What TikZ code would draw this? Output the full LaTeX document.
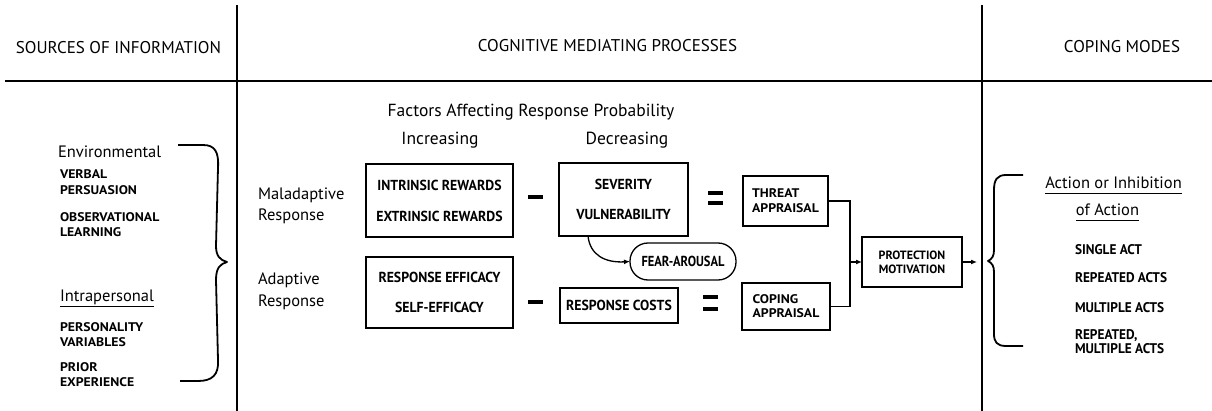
\documentclass[tikz,border=0pt]{standalone}
\usepackage{fontspec}
\setmainfont{PT Sans}
\newfontfamily\capsb[FakeStretch=0.86]{PT Sans}
\newfontfamily\capsm[FakeStretch=0.95]{PT Sans}
\newfontfamily\capsw[FakeStretch=1.1]{PT Sans}
\usetikzlibrary{arrows.meta}
\tikzset{
  every node/.style={inner sep=0pt, outer sep=0pt},
  hdr/.style={font=\fontsize{17}{20}\selectfont},
  lbl/.style={font=\fontsize{16.5}{20}\selectfont},
  smallcaps/.style={font=\capsw\bfseries\fontsize{12.5}{15.5}\selectfont, align=left, anchor=west},
  rcaps/.style={font=\capsm\bfseries\fontsize{14}{15}\selectfont, align=left, anchor=west},
  boxtxt/.style={draw, line width=1.3pt, font=\capsm\bfseries\fontsize{14.5}{31}\selectfont, align=center},
  smallbox/.style={draw, line width=1.3pt, font=\capsw\bfseries\fontsize{12.5}{15}\selectfont, align=left},
  divider/.style={line width=1.5pt},
  bar/.style={fill=black, minimum width=15pt, minimum height=4pt},
  conn/.style={line width=1.3pt},
  arr/.style={line width=1.3pt, -{Latex[length=6pt,width=5pt]}},
  brace/.style={line width=1.8pt, line join=round}
}
\begin{document}
\begin{tikzpicture}[x=1pt,y=-1pt]
\useasboundingbox (0,0) rectangle (1212,411);
% frame lines
\coordinate (v1t) at (237,5); \coordinate (v1b) at (237,411);
\coordinate (v2t) at (982,5); \coordinate (v2b) at (982,411);
\coordinate (hl) at (5,81); \coordinate (hr) at (1212,81);
\draw[divider] (v1t) -- (v1b);
\draw[divider] (v2t) -- (v2b);
\draw[divider] (hl) -- (hr);
% headers
\node[hdr] (h1) at (118.5,48) {SOURCES OF INFORMATION};
\node[hdr] (h2) at (607.5,46) {COGNITIVE MEDIATING PROCESSES};
\node[hdr] (h3) at (1122,47) {COPING MODES};
% left column
\node[lbl, anchor=west] (env) at (58,152) {Environmental};
\node[smallcaps] (verb) at (60,182) {VERBAL\\PERSUASION};
\node[smallcaps] (obs) at (60,224.5) {OBSERVATIONAL\\LEARNING};
\node[lbl, anchor=west] (intra) at (60,297) {Intrapersonal};
\draw[line width=1pt] ([yshift=-5pt]intra.base west) -- ([yshift=-5pt]intra.base east);
\node[smallcaps] (pers) at (60,334.5) {PERSONALITY\\VARIABLES};
\node[smallcaps] (prior) at (60,374.5) {PRIOR\\EXPERIENCE};
% left brace
\coordinate (lbtip) at (227,262);
\draw[brace] (178,145) -- (203,145) .. controls (215,145) and (219,152) .. (218,168)
  -- (216,246) .. controls (216,256) and (220,260) .. (lbtip)
  .. controls (220,264) and (216,268) .. (216,280)
  -- (218,360) .. controls (219,375) and (212,381) .. (198,381) -- (180,381);
% middle labels
\node[lbl, font=\fontsize{16.5}{21}\selectfont, align=left, anchor=west] (mal) at (258,206) {Maladaptive\\Response};
\node[lbl, font=\fontsize{16.5}{22}\selectfont, align=left, anchor=west] (ada) at (258,291) {Adaptive\\Response};
\node[lbl, font=\fontsize{17.5}{20}\selectfont] (fac) at (531,112) {Factors Affecting Response Probability};
\node[lbl, font=\fontsize{17.5}{20}\selectfont] (inc) at (440,140) {Increasing};
\node[lbl, font=\fontsize{17.5}{20}\selectfont] (dec) at (627,140) {Decreasing};
% boxes
\node[boxtxt, minimum width=147pt, minimum height=73pt] (rew) at (439.5,200.5) {INTRINSIC REWARDS\\EXTRINSIC REWARDS};
\node[boxtxt, minimum width=129pt, minimum height=73pt, font=\capsm\bfseries\fontsize{14.5}{30}\selectfont] (sev) at (623.5,199.5) {SEVERITY\\VULNERABILITY};
\node[smallbox, minimum width=85pt, minimum height=50pt] (threat) at (785.5,201) {THREAT\\APPRAISAL};
\node[boxtxt, minimum width=147pt, minimum height=71pt, font=\capsm\bfseries\fontsize{14.5}{30}\selectfont] (eff) at (439.5,292.5) {RESPONSE EFFICACY\\SELF-EFFICACY};
\node[boxtxt, minimum width=118pt, minimum height=35pt] (cost) at (619,305.5) {RESPONSE COSTS};
\node[smallbox, minimum width=88pt, minimum height=47pt, font=\capsw\bfseries\fontsize{12.5}{14}\selectfont] (coping) at (786,306.5) {COPING\\APPRAISAL};
\node[boxtxt, minimum width=106pt, minimum height=37pt, rounded corners=18pt, font=\capsb\bfseries\fontsize{14.5}{17}\selectfont] (fear) at (683,261.5) {FEAR-AROUSAL};
\node[smallbox, align=center, minimum width=100pt, minimum height=50pt, font=\bfseries\fontsize{12}{14}\selectfont] (prot) at (912,262) {PROTECTION\\MOTIVATION};
% operators
\node[bar] (m1) at (535.5,197) {};
\node[bar] (m2) at (535.5,302) {};
\node[bar] (e1a) at (715.5,193) {};
\node[bar] (e1b) at (715.5,203.5) {};
\node[bar] (e2a) at (710,297.5) {};
\node[bar] (e2b) at (710,309) {};
% connectors
\draw[arr] ([xshift=-35.5pt]sev.south) .. controls (590,255) and (605,263) .. (fear.west);
\coordinate (jx) at (850,0);
\draw[conn] (threat.east) -- (threat.east -| jx) -- (coping.east -| jx) -- (coping.east);
\draw[arr] (prot.west -| jx) -- (prot.west);
\coordinate (pa) at (977,262);
\draw[arr] (prot.east) -- (pa);
% right brace
\coordinate (rbtip) at (988,261);
\draw[brace] (1023,175) -- (1006,175) .. controls (997,175) and (994,180) .. (994,190)
  -- (994,250) .. controls (994,256) and (992,259) .. (rbtip)
  .. controls (992,263) and (994,266) .. (994,272)
  -- (994,334) .. controls (994,342) and (997,346) .. (1006,346) -- (1023,346);
% right column
\node[lbl] (act1) at (1113.5,183) {Action or Inhibition};
\draw[line width=1pt] ([yshift=-5pt]act1.base west) -- ([yshift=-5pt]act1.base east);
\node[lbl] (act2) at (1107.5,210) {of Action};
\draw[line width=1pt] ([yshift=-5pt]act2.base west) -- ([yshift=-5pt]act2.base east);
\node[rcaps] (single) at (1075,250) {SINGLE ACT};
\node[rcaps] (rep) at (1075,278) {REPEATED ACTS};
\node[rcaps] (mult) at (1075,308) {MULTIPLE ACTS};
\node[rcaps, font=\capsm\bfseries\fontsize{14}{13.5}\selectfont] (repmult) at (1075,341.5) {REPEATED,\\MULTIPLE ACTS};
\end{tikzpicture}
\end{document}
